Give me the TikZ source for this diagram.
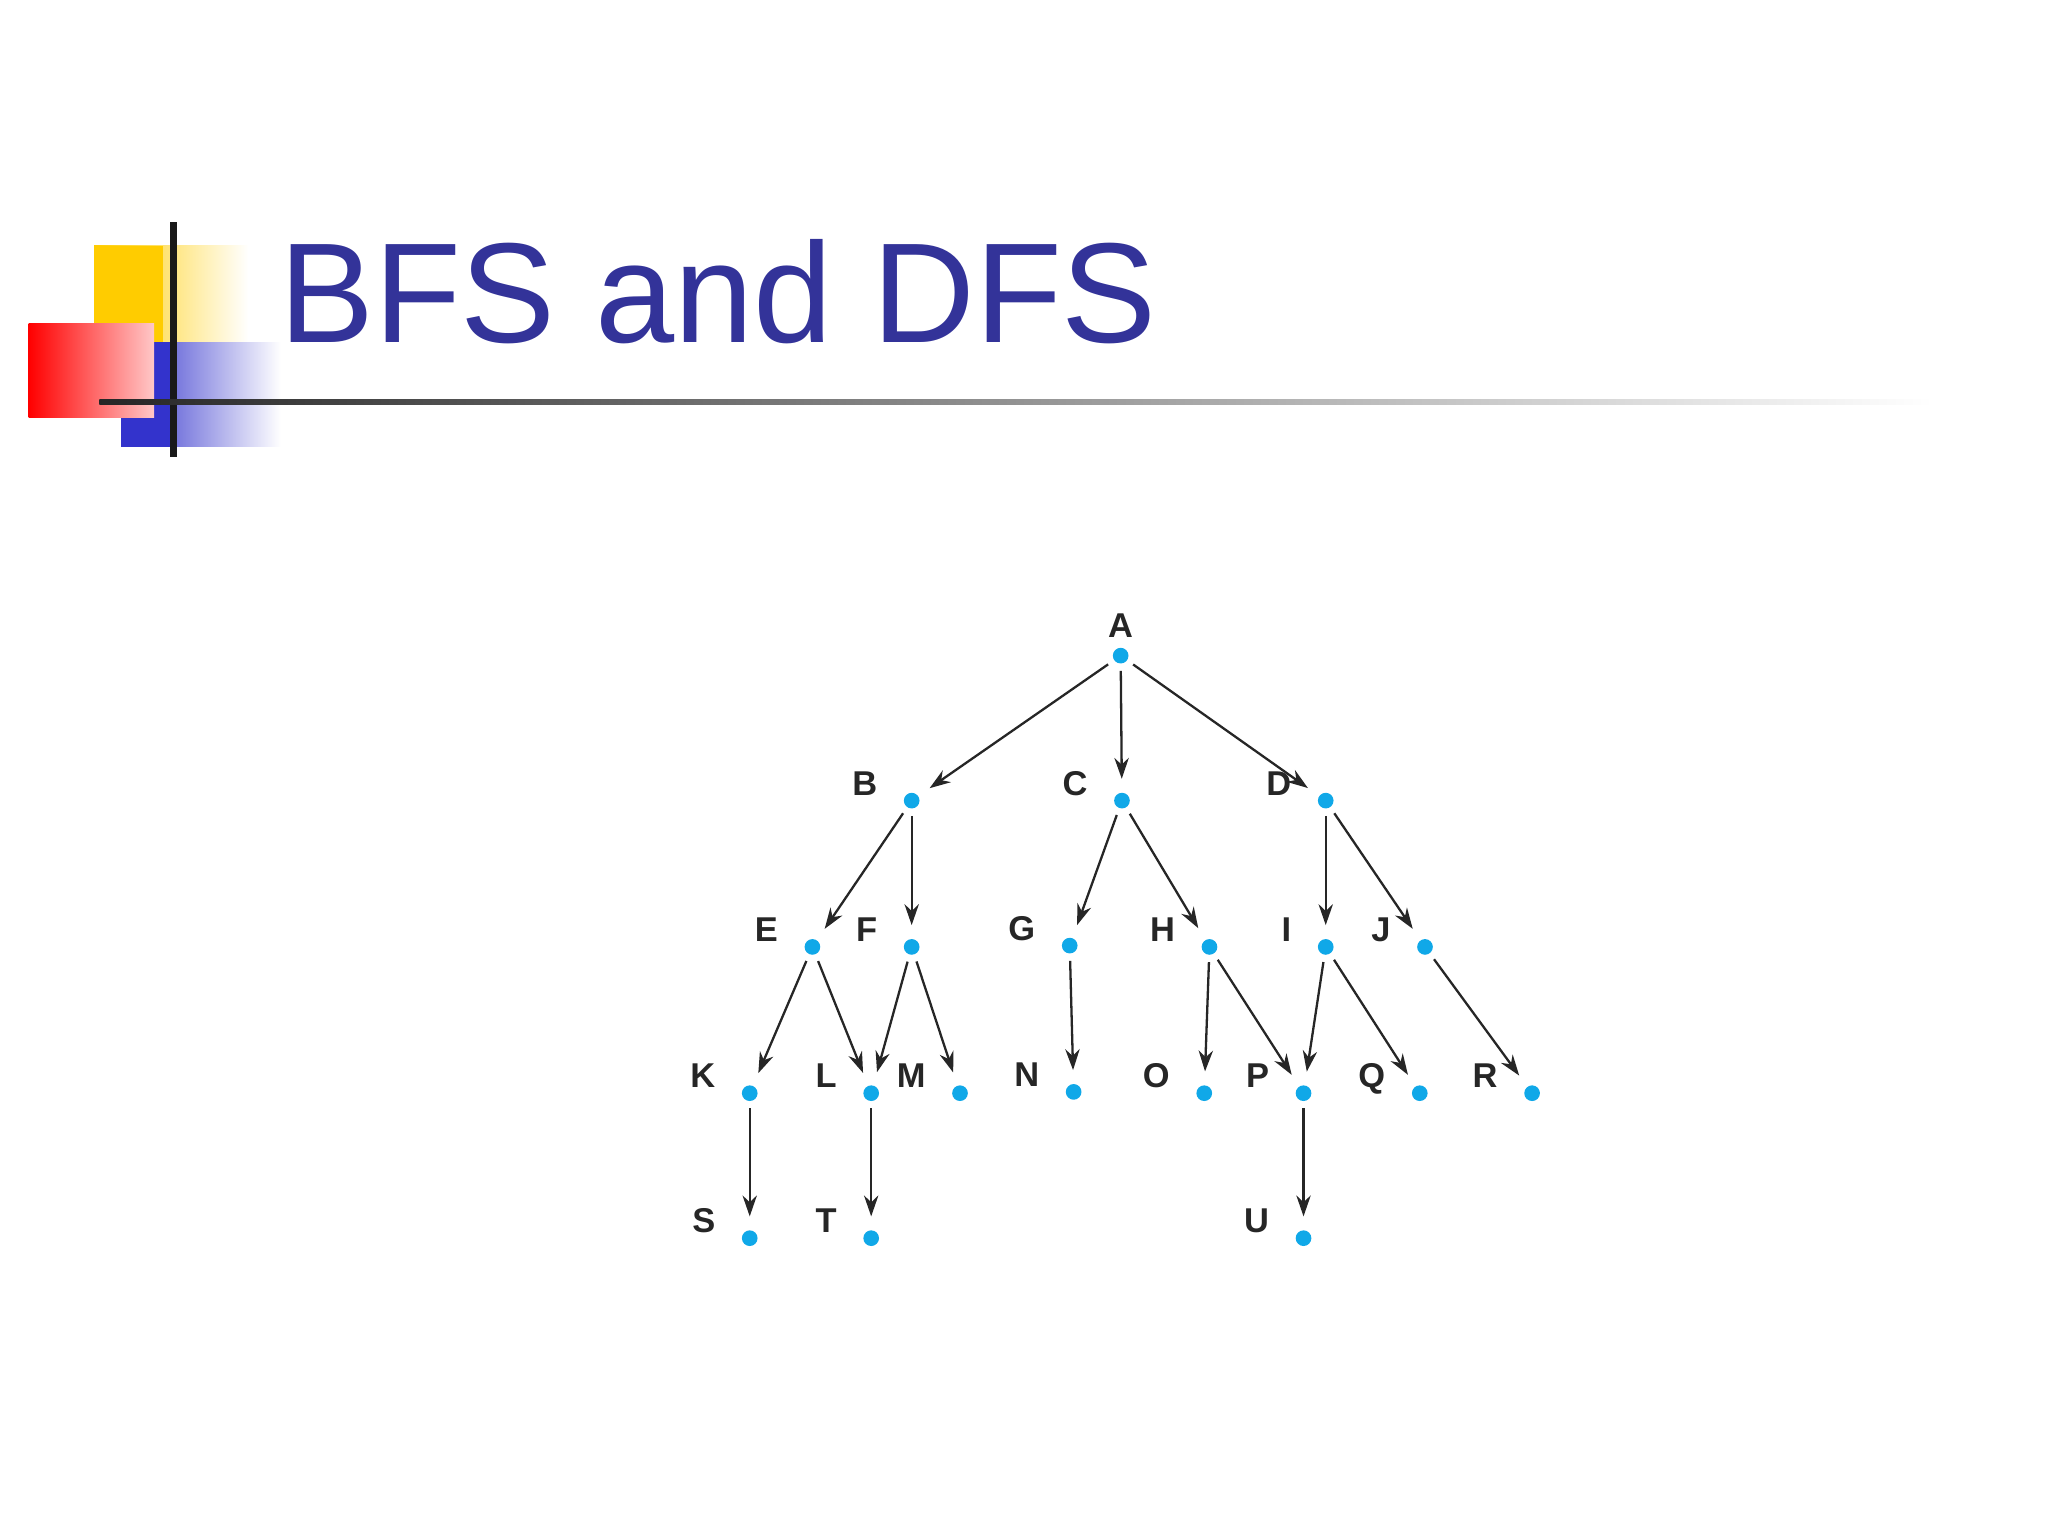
\documentclass[tikz,border=0pt]{standalone}
\usepackage{fontspec}
\setmainfont{Liberation Sans}
\usetikzlibrary{arrows.meta}
\definecolor{ttl}{HTML}{333399}
\definecolor{dot}{HTML}{10A8E8}
\definecolor{yel}{HTML}{FFCC00}
\definecolor{blu}{HTML}{3333CC}
\definecolor{pnk}{HTML}{FFC8C8}
\tikzset{
  vx/.style={circle,fill=dot,inner sep=0pt,minimum size=0.12cm},
  lb/.style={font=\bfseries\fontsize{7.5pt}{8pt}\selectfont,text=black!85},
  ed/.style={-{Stealth[length=0.16cm,width=0.11cm]},black!85,line width=0.5pt,shorten >=0.1cm,shorten <=0.05cm}
}
\begin{document}
\begin{tikzpicture}[x=1cm,y=1cm]
\useasboundingbox (0,0) rectangle (15.68,11.76);
% decoration
\shade[left color=yel,right color=white] (0.72,{(1176-188)/100}) rectangle (1.90,{(1176-300)/100});
\fill[yel] (0.72,{(1176-188)/100}) rectangle (1.25,{(1176-300)/100});
\shade[left color=blu,right color=white] (0.93,{(1176-262)/100}) rectangle (2.15,{(1176-342)/100});
\fill[blu] (0.93,{(1176-262)/100}) rectangle (1.35,{(1176-342)/100});
\shade[left color=red,right color=pnk] (0.22,{(1176-248)/100}) rectangle (1.18,{(1176-320)/100});
\draw[line width=1.6pt,black!90] (1.33,{(1176-170)/100}) -- (1.33,{(1176-350)/100});
\shade[left color=black!85,right color=white] (0.76,{(1176-306)/100}) rectangle (14.8,{(1176-310)/100});
\node[anchor=base west,text=ttl,font=\fontsize{31pt}{31pt}\selectfont,inner sep=0pt] (title) at (2.13,{(1176-262)/100}) {BFS and DFS};
% vertices
\node[vx] (A) at (8.58,{(1176-502)/100}) {};
\node[lb,anchor=base] (lA) at (8.58,{(1176-488)/100}) {A};
\foreach \n/\x/\y in {B/698/613,C/859/613,D/1015/613,E/622/725,F/698/725,G/819/724,H/926/725,I/1015/725,J/1091/725,K/574/837,L/667/837,M/735/837,N/822/836,O/922/837,P/998/837,Q/1087/837,R/1173/837,S/574/948,T/667/948,U/998/948}{
  \node[vx] (\n) at (\x/100,{(1176-\y)/100}) {};
  \node[lb,anchor=base east] (l\n) at ({(\x-14)/100},{(1176-\y+4)/100}) {\n};
}
\foreach \a/\b in {A/B,A/C,A/D,B/E,B/F,C/G,C/H,D/I,D/J,E/K,E/L,F/L,F/M,G/N,H/O,H/P,I/P,I/Q,J/R,K/S,L/T,P/U}
  \draw[ed] (\a) -- (\b);
\end{tikzpicture}
\end{document}
